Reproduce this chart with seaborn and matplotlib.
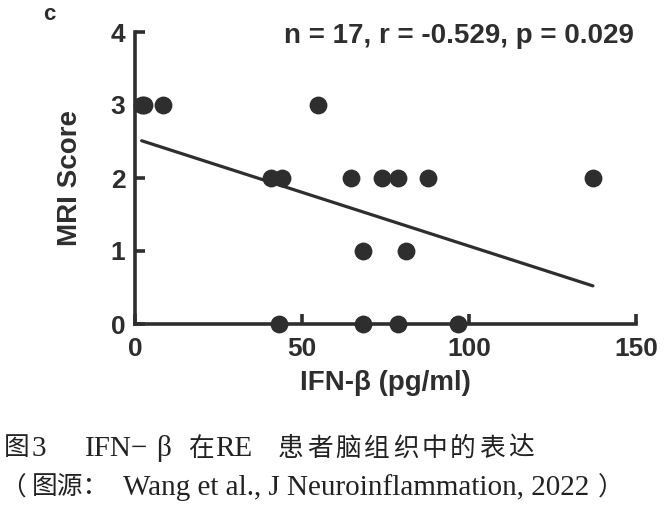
import numpy as np
import pandas as pd
import matplotlib
matplotlib.use('Agg')
import matplotlib.pyplot as plt
import seaborn as sns

# IFN-beta (pg/ml) vs MRI score
ifn_beta = [2.0, 2.7, 8.4, 54.9,
            40.8, 44.1, 64.8, 74.1, 78.6, 87.6, 137.1,
            68.4, 81.0,
            43.2, 68.4, 78.6, 96.6]
mri_score = [3, 3, 3, 3,
             2, 2, 2, 2, 2, 2, 2,
             1, 1,
             0, 0, 0, 0]
x_ticks = [0, 50, 100, 150]
y_ticks = [0, 1, 2, 3, 4]
stats_label = 'n = 17, r = -0.529, p = 0.029'

# caption pieces (text, left x in px, is_cjk) - the original is letter-spaced
caption_1 = [('图', 4, True), ('3', 32, False), ('IFN−', 85, False), ('β', 156, False),
             ('在', 188, True), ('RE', 215, False)]
caption_1_tail = '患者脑组织中的表达'
caption_2 = [('（', 0, True), ('图源：', 32, True),
             ('Wang et al., J Neuroinflammation, 2022', 123, False), ('）', 598, True)]

df = pd.DataFrame({'IFN': ifn_beta, 'MRI': mri_score})

sns.set_theme(style='white')
plt.rcParams['font.family'] = ['Liberation Sans', 'DejaVu Sans']

ink = '#2e2e2e'
W, H = 671, 513
fig = plt.figure(figsize=(6.71, 5.13), dpi=100)
ax = fig.add_axes([135 / W, 1 - 324 / H, (636 - 135) / W, (324 - 32) / H])

sns.regplot(data=df, x='IFN', y='MRI', ax=ax, ci=None, truncate=True,
            scatter_kws={'s': 165, 'color': ink, 'alpha': 1, 'linewidths': 0,
                         'clip_on': False, 'zorder': 3},
            line_kws={'color': ink, 'lw': 2.3, 'clip_on': False})

ax.set_xlim(0, 150)
ax.set_ylim(0, 4)
ax.set_xticks(x_ticks)
ax.set_yticks(y_ticks)
for s in ['top', 'right']:
    ax.spines[s].set_visible(False)
for s in ['left', 'bottom']:
    ax.spines[s].set_linewidth(2.6)
    ax.spines[s].set_color(ink)
ax.tick_params(bottom=True, left=True, direction='in', length=7, width=2.6,
               color=ink, labelsize=19, labelcolor=ink)
ax.tick_params(axis='x', pad=9)
ax.tick_params(axis='y', pad=7)
for lab in ax.get_xticklabels() + ax.get_yticklabels():
    lab.set_fontweight('bold')

ax.set_xlabel('IFN-β (pg/ml)', fontsize=20, fontweight='bold', color=ink, labelpad=7)
ax.set_ylabel('MRI Score', fontsize=20, fontweight='bold', color=ink, labelpad=20)

ax.text(0.995, 0.985, stats_label, transform=ax.transAxes, ha='right', va='center',
        fontsize=20, fontweight='bold', color=ink)

fig.text(43 / W, 1 - 14 / H, 'c', fontsize=16, fontweight='semibold',
         color=ink, ha='left', va='center')

cap_font = ['Liberation Serif', 'Noto Sans CJK SC']
cap_col = '#222222'


def cap(txt, x, y, cjk):
    fig.text(x / W, 1 - y / H, txt, fontsize=18.5 if cjk else 21, family=cap_font,
             color=cap_col, ha='left', va='center')


for txt, x, cjk in caption_1:
    cap(txt, x, 449, cjk)
for i, ch in enumerate(caption_1_tail):
    cap(ch, 278 + i * 28.7, 449, True)
for txt, x, cjk in caption_2:
    cap(txt, x, 488, cjk)

fig.savefig('out.png', dpi=100)
